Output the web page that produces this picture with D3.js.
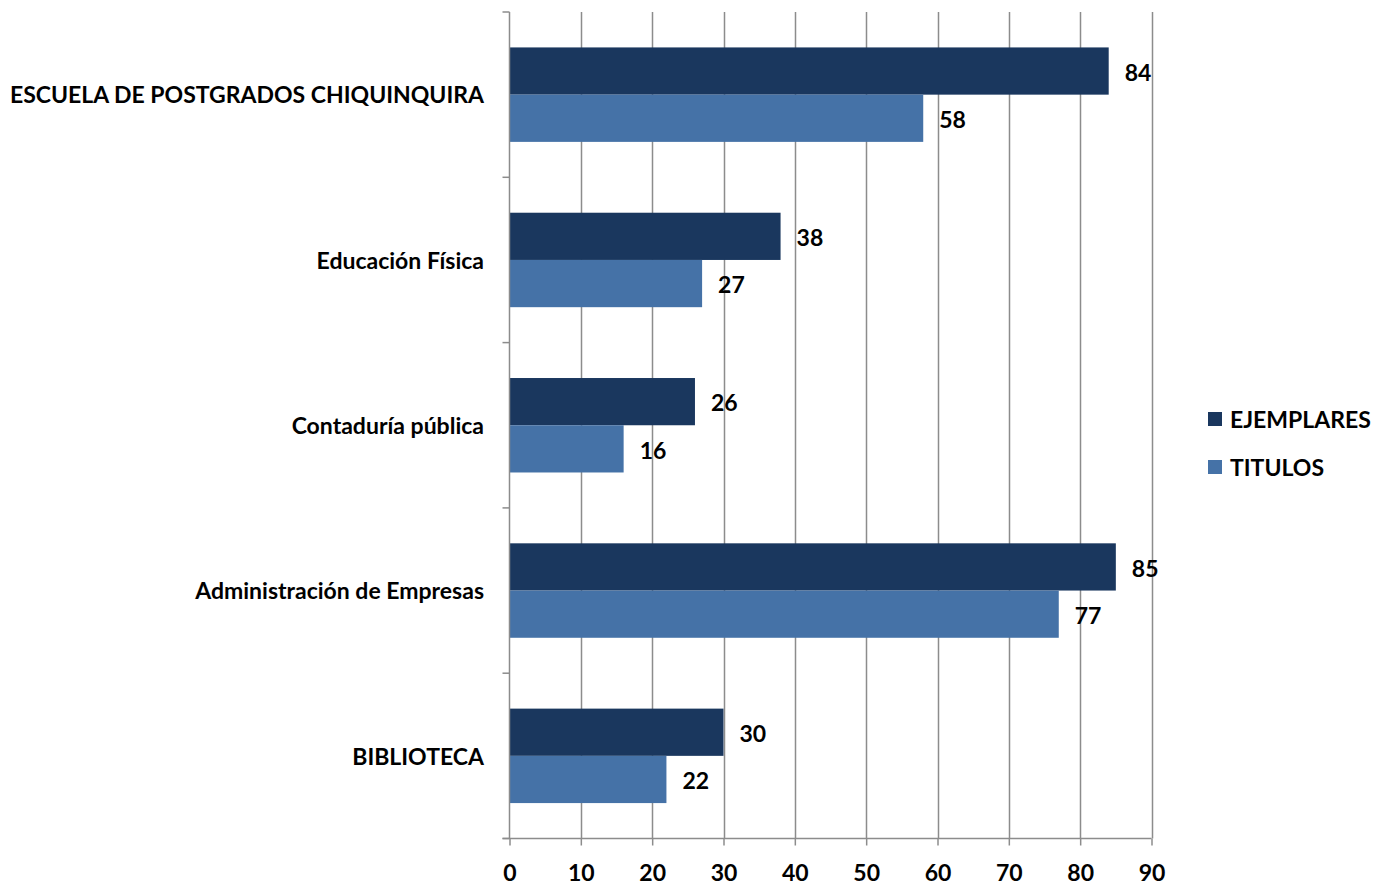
<!DOCTYPE html>
<html>
<head>
<meta charset="utf-8">
<script src="https://cdn.jsdelivr.net/npm/d3@7"></script>
<style>
  body { margin: 0; background: #fff; }
  svg text { font-family: Lato, "Open Sans", sans-serif; font-weight: bold; fill: #000; }
</style>
</head>
<body>
<svg id="chart" width="1374" height="886"></svg>
<script>
// data
var categories = ["ESCUELA DE POSTGRADOS CHIQUINQUIRA", "Educación Física", "Contaduría pública", "Administración de Empresas", "BIBLIOTECA"];
var seriesNames = ["EJEMPLARES", "TITULOS"];
var ejemplares = [84, 38, 26, 85, 30];
var titulos = [58, 27, 16, 77, 22];
var xTicks = [0, 10, 20, 30, 40, 50, 60, 70, 80, 90];
var colors = ["#1a375e", "#4572a7"];

var svg = d3.select("#chart");
var margin = { left: 509.5, right: 1151.5, top: 12, bottom: 838.5 };

var x = d3.scaleLinear().domain([0, 90]).range([margin.left, margin.right]);
var y = d3.scaleBand().domain(categories).range([margin.top, margin.bottom]);
var inner = d3.scaleBand().domain(seriesNames).range([0, y.bandwidth()]).paddingOuter(0.75);

var rows = categories.map(function (c, i) {
    return { cat: c, values: [ejemplares[i], titulos[i]] };
});

// vertical gridlines
svg.append("g")
    .selectAll("line")
    .data(xTicks.slice(1))
    .enter().append("line")
    .attr("x1", function (d) { return Math.round(x(d)) + 0.5; })
    .attr("x2", function (d) { return Math.round(x(d)) + 0.5; })
    .attr("y1", margin.top)
    .attr("y2", margin.bottom)
    .attr("stroke", "#8c8c8c")
    .attr("stroke-width", 1.5);

// bars
var group = svg.append("g")
    .selectAll("g")
    .data(rows)
    .enter().append("g")
    .attr("transform", function (d) { return "translate(0," + y(d.cat) + ")"; });

group.selectAll("rect")
    .data(function (d) { return d.values.map(function (v, i) { return { s: seriesNames[i], v: v, i: i }; }); })
    .enter().append("rect")
    .attr("x", x(0))
    .attr("y", function (d) { return inner(d.s); })
    .attr("width", function (d) { return x(d.v) - x(0); })
    .attr("height", inner.bandwidth())
    .attr("fill", function (d) { return colors[d.i]; });

group.selectAll("text.val")
    .data(function (d) { return d.values.map(function (v, i) { return { s: seriesNames[i], v: v }; }); })
    .enter().append("text")
    .attr("class", "val")
    .attr("x", function (d) { return x(d.v) + 16; })
    .attr("y", function (d) { return inner(d.s) + inner.bandwidth() / 2; })
    .attr("dy", "0.42em")
    .style("font-size", "23px")
    .text(function (d) { return d.v; });

// left axis
var yAxis = svg.append("g");
yAxis.append("line")
    .attr("x1", margin.left).attr("x2", margin.left)
    .attr("y1", margin.top).attr("y2", margin.bottom)
    .attr("stroke", "#8c8c8c").attr("stroke-width", 1.5);
yAxis.selectAll("line.tick")
    .data(d3.range(categories.length + 1))
    .enter().append("line")
    .attr("class", "tick")
    .attr("x1", margin.left - 7).attr("x2", margin.left)
    .attr("y1", function (i) { return margin.top + i * y.step(); })
    .attr("y2", function (i) { return margin.top + i * y.step(); })
    .attr("stroke", "#8c8c8c").attr("stroke-width", 1.5);
yAxis.selectAll("text")
    .data(categories)
    .enter().append("text")
    .attr("x", 484)
    .attr("y", function (d) { return y(d) + y.bandwidth() / 2; })
    .attr("dy", "0.38em")
    .attr("text-anchor", "end")
    .style("font-size", "23px")
    .text(function (d) { return d; });

// bottom axis
var xAxis = svg.append("g")
    .attr("transform", "translate(0," + margin.bottom + ")")
    .call(d3.axisBottom(x).tickValues(xTicks).tickSize(7).tickPadding(19).tickFormat(d3.format("d")));
xAxis.select(".domain").attr("stroke", "#8c8c8c").attr("stroke-width", 1.5)
    .attr("d", "M" + (margin.left - 7) + ",0H" + margin.right);
xAxis.selectAll(".tick line").attr("stroke", "#8c8c8c").attr("stroke-width", 1.5);
xAxis.selectAll(".tick text")
    .style("font-size", "23px")
    .style("font-family", "Lato, sans-serif")
    .style("font-weight", "bold")
    .attr("fill", "#000");

// legend
var legend = svg.append("g")
    .selectAll("g")
    .data(seriesNames)
    .enter().append("g")
    .attr("transform", function (d, i) { return "translate(1208," + (412 + i * 48) + ")"; });
legend.append("rect")
    .attr("width", 14).attr("height", 14)
    .attr("fill", function (d, i) { return colors[i]; });
legend.append("text")
    .attr("x", 22).attr("y", 7).attr("dy", "0.38em")
    .style("font-size", "23px")
    .text(function (d) { return d; });
</script>
</body>
</html>
